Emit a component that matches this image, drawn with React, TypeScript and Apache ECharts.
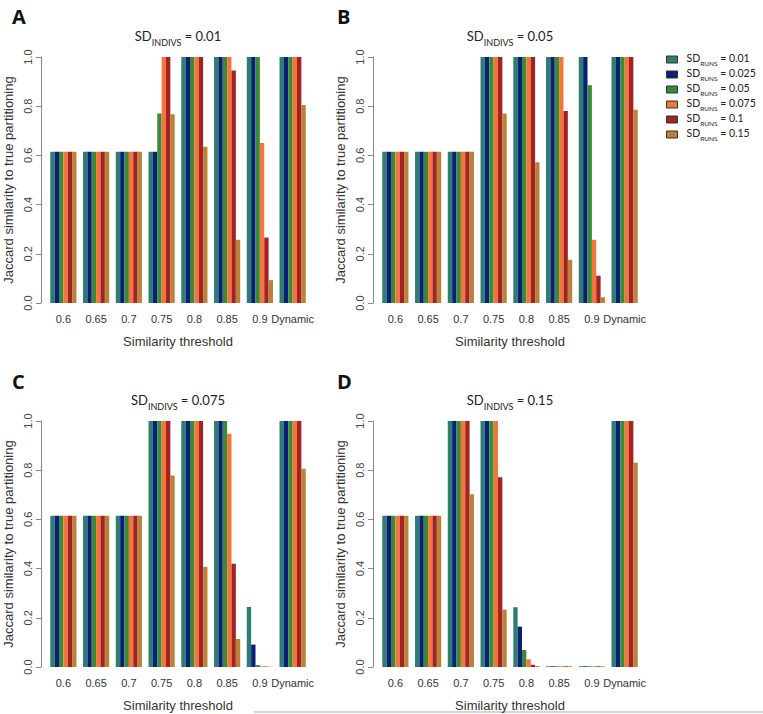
import React, { useEffect, useRef } from "react";
import * as echarts from "echarts";

const categories = ["0.6", "0.65", "0.7", "0.75", "0.8", "0.85", "0.9", "Dynamic"];
const runLabels = ["0.01", "0.025", "0.05", "0.075", "0.1", "0.15"];
const indivLabels = ["0.01", "0.05", "0.075", "0.15"];
const panelLetters = ["A", "B", "C", "D"];
const colors = ["#2E7D6E", "#0A1F7A", "#3A8A3A", "#F2763A", "#A52224", "#B98239"];

// rows = SD_RUNS series, columns = similarity thresholds
const panelA = [
  [0.615, 0.615, 0.615, 0.615, 1, 1, 1, 1],
  [0.615, 0.615, 0.615, 0.615, 1, 1, 1, 1],
  [0.615, 0.615, 0.615, 0.77, 1, 1, 1, 1],
  [0.615, 0.615, 0.615, 1, 1, 1, 0.65, 1],
  [0.615, 0.615, 0.615, 1, 1, 0.945, 0.266, 1],
  [0.615, 0.615, 0.615, 0.767, 0.635, 0.257, 0.093, 0.805],
];
const panelB = [
  [0.615, 0.615, 0.615, 1, 1, 1, 1, 1],
  [0.615, 0.615, 0.615, 1, 1, 1, 1, 1],
  [0.615, 0.615, 0.615, 1, 1, 1, 0.885, 1],
  [0.615, 0.615, 0.615, 1, 1, 1, 0.257, 1],
  [0.615, 0.615, 0.615, 1, 1, 0.78, 0.111, 1],
  [0.615, 0.615, 0.615, 0.77, 0.572, 0.176, 0.023, 0.786],
];
const panelC = [
  [0.615, 0.615, 0.615, 1, 1, 1, 0.244, 1],
  [0.615, 0.615, 0.615, 1, 1, 1, 0.091, 1],
  [0.615, 0.615, 0.615, 1, 1, 1, 0.008, 1],
  [0.615, 0.615, 0.615, 1, 1, 0.948, 0.003, 1],
  [0.615, 0.615, 0.615, 1, 1, 0.42, 0.002, 1],
  [0.615, 0.615, 0.615, 0.778, 0.407, 0.114, 0.001, 0.806],
];
const panelD = [
  [0.615, 0.615, 1, 1, 0.243, 0.003, 0.003, 1],
  [0.615, 0.615, 1, 1, 0.164, 0.003, 0.003, 1],
  [0.615, 0.615, 1, 1, 0.069, 0.003, 0.003, 1],
  [0.615, 0.615, 1, 1, 0.031, 0.003, 0.003, 1],
  [0.615, 0.615, 1, 0.771, 0.009, 0.003, 0.003, 1],
  [0.615, 0.615, 0.702, 0.233, 0.004, 0.003, 0.003, 0.83],
];
const panels = [panelA, panelB, panelC, panelD];

const grids = [
  { left: 47, top: 57, width: 262, height: 246 },
  { left: 379, top: 57, width: 262, height: 246 },
  { left: 47, top: 421, width: 262, height: 246 },
  { left: 379, top: 421, width: 262, height: 246 },
];

const titleFont = "Lato, 'Open Sans', sans-serif";
const axisFont = "'Liberation Sans', Arial, sans-serif";

export default function App() {
  const ref = useRef<HTMLDivElement>(null);
  useEffect(() => {
    if (!ref.current) return;
    const chart = echarts.init(ref.current, null, { renderer: "svg" });

    const xAxis: any[] = [];
    const yAxis: any[] = [];
    const series: any[] = [];
    const graphic: any[] = [];

    grids.forEach((g, p) => {
      xAxis.push({
        type: "category",
        gridIndex: p,
        data: categories,
        axisLine: { show: false },
        axisTick: { show: false },
        axisLabel: { color: "#333", fontFamily: axisFont, fontSize: 11, margin: 10, interval: 0 },
        name: "Similarity threshold",
        nameLocation: "middle",
        nameGap: 32,
        nameTextStyle: { color: "#333", fontFamily: axisFont, fontSize: 13 },
      });
      yAxis.push({
        type: "value",
        gridIndex: p,
        min: 0,
        max: 1,
        interval: 0.2,
        offset: 6,
        splitLine: { show: false },
        axisLine: { show: true, lineStyle: { color: "#888", width: 1 } },
        axisTick: { show: true, length: 5, lineStyle: { color: "#888" } },
        axisLabel: {
          rotate: 90,
          margin: 8,
          color: "#444",
          fontFamily: axisFont,
          fontSize: 11,
          formatter: (v: number) => v.toFixed(1),
        },
        name: "Jaccard similarity to true partitioning",
        nameLocation: "middle",
        nameRotate: 90,
        nameGap: 26,
        nameTextStyle: { color: "#333", fontFamily: axisFont, fontSize: 13 },
      });
      panels[p].forEach((row, s) => {
        series.push({
          type: "bar",
          name: "SD_RUNS = " + runLabels[s],
          xAxisIndex: p,
          yAxisIndex: p,
          data: row,
          barGap: "0%",
          barCategoryGap: "20%",
          itemStyle: { color: colors[s] },
          emphasis: { disabled: true },
        });
      });
      graphic.push({
        type: "text",
        x: g.left + g.width / 2,
        y: g.top - 28,
        style: {
          text: "{a|SD}{b|INDIVS}{a| = " + indivLabels[p] + "}",
          align: "center",
          verticalAlign: "top",
          rich: {
            a: { fontSize: 13, fontFamily: titleFont, fill: "#222", verticalAlign: "top", lineHeight: 14 },
            b: { fontSize: 9, fontFamily: titleFont, fill: "#222", verticalAlign: "bottom", lineHeight: 18 },
          },
        },
      });
      graphic.push({
        type: "text",
        x: p % 2 === 0 ? 12 : 337,
        y: p < 2 ? 6 : 371,
        style: {
          text: panelLetters[p],
          fontSize: 20,
          fontWeight: "bold",
          fontFamily: "'Open Sans', Lato, sans-serif",
          fill: "#111",
        },
      });
    });

    graphic.push({
      type: "line",
      shape: { x1: 254, y1: 712, x2: 763, y2: 712 },
      style: { stroke: "#aaa", lineWidth: 1 },
    });

    chart.setOption({
      animation: false,
      backgroundColor: "#fff",
      grid: grids.map((g) => ({ ...g, containLabel: false })),
      xAxis,
      yAxis,
      series,
      graphic,
      legend: {
        orient: "vertical",
        left: 664,
        top: 50,
        padding: 2,
        icon: "rect",
        itemWidth: 11,
        itemHeight: 7,
        itemGap: 0,
        data: runLabels.map((r) => "SD_RUNS = " + r),
        itemStyle: { borderColor: "#333", borderWidth: 1 },
        formatter: (name: string) => "{a|SD}{b|RUNS}{a| = " + name.split(" = ")[1] + "}",
        textStyle: {
          rich: {
            a: { fontSize: 10.5, fontFamily: titleFont, color: "#222", verticalAlign: "top", lineHeight: 12 },
            b: { fontSize: 6.5, fontFamily: titleFont, color: "#222", verticalAlign: "bottom", lineHeight: 15 },
          },
          padding: [0, 0, 0, 4],
        },
      },
    });
    return () => chart.dispose();
  }, []);
  return (
    <div
      ref={ref}
      style={{ position: "absolute", left: 0, top: 0, width: 763, height: 714 }}
    />
  );
}
